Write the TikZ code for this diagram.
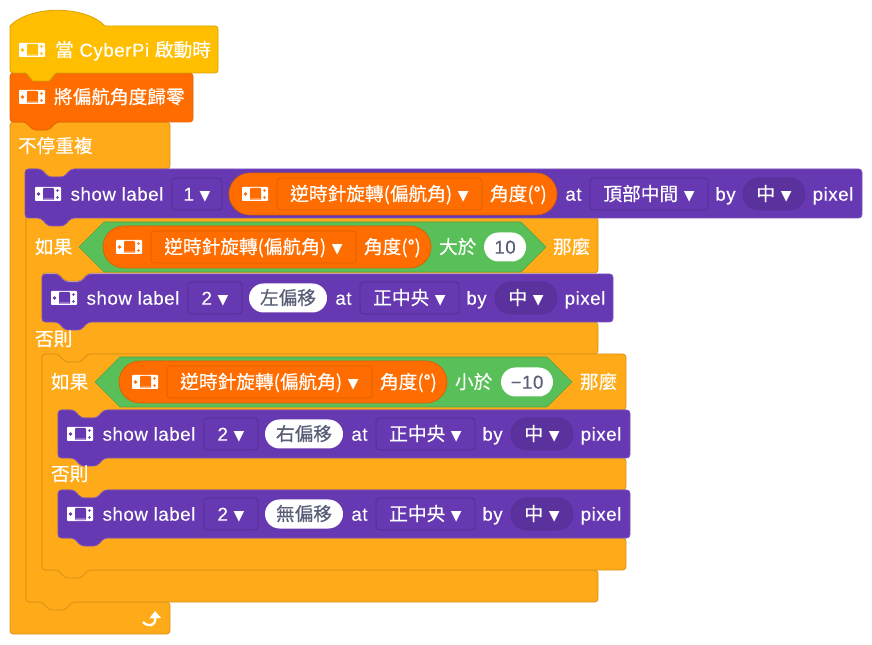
\documentclass[tikz,border=0pt]{standalone}
\usepackage{fontspec}
\setmainfont[LetterSpace=3,FakeBold=0.25]{Liberation Sans}
\newfontfamily\cjk[FakeBold=0.35]{Noto Sans CJK TC}
\newfontfamily\dejavu{DejaVu Sans}
\usepackage{xcolor}
\usetikzlibrary{shapes.symbols, arrows.meta, positioning}
\definecolor{BlockHat}{HTML}{FFBF00}
\definecolor{BlockYaw}{HTML}{FF6D00}
\definecolor{BlockLoop}{HTML}{FFAB19}
\definecolor{BlockLabel}{HTML}{6638B2}
\definecolor{BlockCond}{HTML}{59C059}
\definecolor{InputText}{HTML}{575E75}
\newcommand{\blockfont}{\fontsize{14}{16}\selectfont}
\newcommand{\dnarrow}{{\dejavu\fontsize{10.5}{10.5}\selectfont ▼}}
\newcommand{\stackblock}[5]{\draw[#1] (#2,#3) \topnotch -- (#4,#3) -- (#4,#5) \innertab{#2}{#5} -- cycle;}
\newcommand{\topnotch}{-- ++(16,0) -- ++(7,8) -- ++(16,0) -- ++(7,-8)}
\newcommand{\innertab}[2]{-- (#1+46,#2) -- ++(-7,8) -- ++(-16,0) -- ++(-7,-8) -- (#1,#2)}
\tikzset{
    stackline/.style={rounded corners=2.5pt, line width=0.6pt},
    hatblock/.style={line width=0.6pt, fill=BlockHat, draw=BlockHat!85!black},
    yawblock/.style={stackline, fill=BlockYaw, draw=BlockYaw!90!black},
    loopblock/.style={stackline, fill=BlockLoop, draw=BlockLoop!85!black},
    labelblock/.style={stackline, fill=BlockLabel, draw=BlockLabel!85!white},
    lbl/.style={inner sep=0pt, outer sep=0pt, text=white, font=\blockfont, text height=12pt, text depth=2pt,
        minimum width=#1*0.75pt},
    deviceicon/.style={inner sep=0pt, outer sep=0pt, fill=white, rounded corners=0.6pt, minimum width=19.5pt, minimum height=10.5pt,
        path picture={
            \fill[#1, shift={(path picture bounding box.center)}] (-5,-6) rectangle (6,6);
            \fill[white!45!#1, shift={(path picture bounding box.center)}] (-5,4.5) rectangle (6,6);
            \fill[#1, shift={(path picture bounding box.center)}] (-9.5,0) circle (1.8) (9.5,-3.5) circle (1.4) (9.5,3.5) circle (1.4);
        }},
    dropbox/.style={lbl=#1, minimum height=24pt, rounded corners=2.5pt, draw=BlockLabel!80!black, fill=BlockLabel, line width=0.5pt},
    rounddrop/.style={lbl=#1, minimum height=24pt, rounded corners=12pt, draw=BlockLabel!85!black, fill=BlockLabel!88!black, line width=0.5pt},
    yawfield/.style={lbl=#1, minimum height=24pt, rounded corners=2.5pt, draw=BlockYaw!85!black, fill=BlockYaw, line width=0.5pt},
    yawpill/.style={inner sep=0pt, outer sep=0pt, minimum width=#1*0.75pt, minimum height=31.5pt, rounded corners=15.75pt,
        draw=BlockYaw!85!black, fill=BlockYaw, line width=0.5pt},
    inpill/.style={lbl=#1, minimum height=21.75pt, rounded corners=10.87pt, fill=white, text=InputText},
    condhex/.style={signal, signal to=west and east, signal pointer angle=90, inner sep=0pt, outer sep=0pt,
        minimum width=#1*0.75pt, minimum height=37.5pt, draw=BlockCond!85!black, fill=BlockCond, line width=0.5pt},
    looparrow/.style={-{Triangle[length=5.5pt,width=8.5pt]}, white, line width=1.7pt},
}
\begin{document}
\begin{tikzpicture}[x=0.75pt, y=-0.75pt]
    \useasboundingbox (0,0) rectangle (872,645);

    \draw[loopblock] (10,122) \topnotch -- (170,122) -- (170,169) \innertab{26}{169} -- (26,602) -- (170,602) -- (170,634) -- (10,634) -- cycle;
    \stackblock{yawblock}{10}{73}{193}{122}
    \draw[hatblock] (10,26) .. controls (30,5) and (85,5) .. (105,26) -- (215,26) to[out=0,in=90] (218,29) -- (218,70) to[out=-90,in=0] (215,73) -- (56,73) -- ++(-7,8) -- ++(-16,0) -- ++(-7,-8) -- (13,73) to[out=180,in=-90] (10,70) -- cycle;

    \node[deviceicon=BlockHat, anchor=west] (hatIcon) at (19,50) {};
    \node[lbl=155, right=7.5pt of hatIcon] (hatText) {{\cjk 當} CyberPi {\cjk 啟動時}};

    \node[deviceicon=BlockYaw, anchor=west] (yawIcon) at (19,97) {};
    \node[lbl=130, right=6.75pt of yawIcon] (yawText) {\cjk 將偏航角度歸零};

    \node[lbl=74, anchor=west] (loopText) at (18,146) {\cjk 不停重複};
    \draw[looparrow] (143,622) .. controls (148,627) and (155.5,627) .. (155,611);

    \draw[loopblock] (26,217) \topnotch -- (598,217) -- (598,273) \innertab{42}{273} -- (42,322) -- (598,322) -- (598,354) \innertab{42}{354} -- (42,570) -- (598,570) -- (598,602) \innertab{26}{602} -- cycle;

    \stackblock{labelblock}{25}{169}{862}{218}
    \node[deviceicon=BlockLabel, anchor=west] (oneIcon) at (35,194) {};
    \node[lbl=94, right=6.75pt of oneIcon] (oneShow) {show label};
    \node[dropbox=50, right=6pt of oneShow] (oneDrop) {1 \dnarrow};
    \node[yawpill=328, right=5.25pt of oneDrop] (onePill) {};
    \node[deviceicon=BlockYaw, right=9.75pt of onePill.west] (onePillIcon) {};
    \node[yawfield=205, right=6.75pt of onePillIcon] (onePillField) {{\cjk 逆時針旋轉(偏航角)} \dnarrow};
    \node[lbl=56, right=6pt of onePillField] (onePillAngle) {\cjk 角度(°)};
    \node[lbl=17, right=6pt of onePill] (oneAt) {at};
    \node[dropbox=118, right=6pt of oneAt] (onePlace) {{\cjk 頂部中間} \dnarrow};
    \node[lbl=21, right=5.25pt of onePlace] (oneBy) {by};
    \node[rounddrop=62, right=5.25pt of oneBy] (oneSize) {{\cjk 中} \dnarrow};
    \node[lbl=42, right=5.25pt of oneSize] (onePixel) {pixel};

    \node[lbl=36, anchor=west] (ifOneText) at (35,247) {\cjk 如果};
    \node[condhex=467, right=5pt of ifOneText] (ifOneHex) {};
    \node[yawpill=328, right=18pt of ifOneHex.west] (ifOnePill) {};
    \node[deviceicon=BlockYaw, right=9.75pt of ifOnePill.west] (ifOneIcon) {};
    \node[yawfield=205, right=6.75pt of ifOneIcon] (ifOneField) {{\cjk 逆時針旋轉(偏航角)} \dnarrow};
    \node[lbl=56, right=6pt of ifOneField] (ifOneAngle) {\cjk 角度(°)};
    \node[lbl=36, right=6pt of ifOnePill] (ifOneCmp) {\cjk 大於};
    \node[inpill=42, right=5.8pt of ifOneCmp] (ifOneNum) {10};
    \node[lbl=37, right=5.25pt of ifOneHex] (ifOneThen) {\cjk 那麼};

    \stackblock{labelblock}{42}{274}{613}{322}
    \node[deviceicon=BlockLabel, anchor=west] (twoIcon) at (51,298) {};
    \node[lbl=94, right=6.75pt of twoIcon] (twoShow) {show label};
    \node[dropbox=54, right=6pt of twoShow] (twoDrop) {2 \dnarrow};
    \node[inpill=78, right=5.25pt of twoDrop] (twoMsg) {\cjk 左偏移};
    \node[lbl=17, right=6pt of twoMsg] (twoAt) {at};
    \node[dropbox=99, right=6pt of twoAt] (twoPlace) {{\cjk 正中央} \dnarrow};
    \node[lbl=21, right=5.25pt of twoPlace] (twoBy) {by};
    \node[rounddrop=62, right=6pt of twoBy] (twoSize) {{\cjk 中} \dnarrow};
    \node[lbl=42, right=5.25pt of twoSize] (twoPixel) {pixel};

    \node[lbl=36, anchor=west] (elseOneText) at (35,339) {\cjk 否則};

    \draw[loopblock] (42,354) \topnotch -- (626,354) -- (626,410) \innertab{58}{410} -- (58,458) -- (626,458) -- (626,490) \innertab{58}{490} -- (58,538) -- (626,538) -- (626,570) \innertab{42}{570} -- cycle;

    \node[lbl=36, anchor=west] (ifTwoText) at (51,382) {\cjk 如果};
    \node[condhex=477, right=5pt of ifTwoText] (ifTwoHex) {};
    \node[yawpill=328, right=18pt of ifTwoHex.west] (ifTwoPill) {};
    \node[deviceicon=BlockYaw, right=9.75pt of ifTwoPill.west] (ifTwoIcon) {};
    \node[yawfield=205, right=6.75pt of ifTwoIcon] (ifTwoField) {{\cjk 逆時針旋轉(偏航角)} \dnarrow};
    \node[lbl=56, right=6pt of ifTwoField] (ifTwoAngle) {\cjk 角度(°)};
    \node[lbl=36, right=6pt of ifTwoPill] (ifTwoCmp) {\cjk 小於};
    \node[inpill=52, right=6.5pt of ifTwoCmp] (ifTwoNum) {−10};
    \node[lbl=37, right=6pt of ifTwoHex] (ifTwoThen) {\cjk 那麼};

    \stackblock{labelblock}{58}{410}{630}{458}
    \node[deviceicon=BlockLabel, anchor=west] (threeIcon) at (67,434) {};
    \node[lbl=94, right=6.75pt of threeIcon] (threeShow) {show label};
    \node[dropbox=54, right=6pt of threeShow] (threeDrop) {2 \dnarrow};
    \node[inpill=78, right=5.25pt of threeDrop] (threeMsg) {\cjk 右偏移};
    \node[lbl=17, right=6pt of threeMsg] (threeAt) {at};
    \node[dropbox=99, right=6pt of threeAt] (threePlace) {{\cjk 正中央} \dnarrow};
    \node[lbl=21, right=5.25pt of threePlace] (threeBy) {by};
    \node[rounddrop=62, right=6pt of threeBy] (threeSize) {{\cjk 中} \dnarrow};
    \node[lbl=42, right=5.25pt of threeSize] (threePixel) {pixel};

    \node[lbl=36, anchor=west] (elseTwoText) at (51,474) {\cjk 否則};

    \stackblock{labelblock}{58}{490}{630}{538}
    \node[deviceicon=BlockLabel, anchor=west] (fourIcon) at (67,514) {};
    \node[lbl=94, right=6.75pt of fourIcon] (fourShow) {show label};
    \node[dropbox=54, right=6pt of fourShow] (fourDrop) {2 \dnarrow};
    \node[inpill=78, right=5.25pt of fourDrop] (fourMsg) {\cjk 無偏移};
    \node[lbl=17, right=6pt of fourMsg] (fourAt) {at};
    \node[dropbox=99, right=6pt of fourAt] (fourPlace) {{\cjk 正中央} \dnarrow};
    \node[lbl=21, right=5.25pt of fourPlace] (fourBy) {by};
    \node[rounddrop=62, right=6pt of fourBy] (fourSize) {{\cjk 中} \dnarrow};
    \node[lbl=42, right=5.25pt of fourSize] (fourPixel) {pixel};
\end{tikzpicture}
\end{document}
